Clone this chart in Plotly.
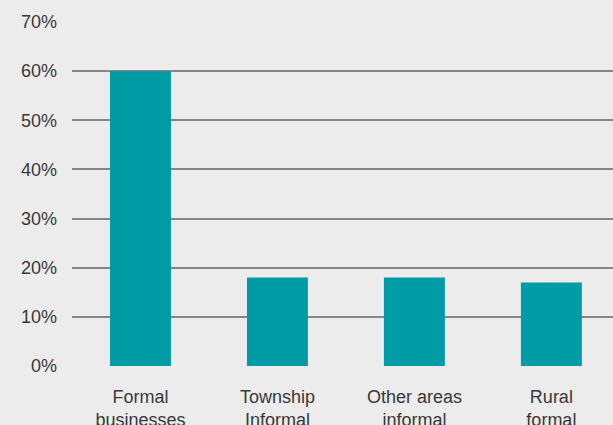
import plotly.graph_objects as go

categories = ["Formal<br>businesses", "Township<br>Informal", "Other areas<br>informal", "Rural<br>formal"]
shares = [60, 18, 18, 17]
y_ticks = [0, 10, 20, 30, 40, 50, 60, 70]
y_tick_labels = [f"{v}%" for v in y_ticks]

bg = "#ececec"
bar_color = "#009ca6"
text_color = "#383838"

fig = go.Figure(
    go.Bar(
        x=list(range(len(categories))),
        y=shares,
        marker=dict(color=bar_color, line=dict(width=0)),
        width=0.445,
        hoverinfo="skip",
    )
)

fig.update_layout(
    width=613,
    height=425,
    margin=dict(l=72, r=0, t=22, b=59),
    paper_bgcolor=bg,
    plot_bgcolor=bg,
    showlegend=False,
    font=dict(family="Liberation Sans, Arial, sans-serif", size=18, color=text_color),
    xaxis=dict(
        range=[-0.5, 3.45],
        tickmode="array",
        tickvals=list(range(len(categories))),
        ticktext=categories,
        showgrid=False,
        zeroline=False,
        showline=False,
        ticks="",
        automargin=False,
        ticklabelstandoff=18,
        tickfont=dict(size=18, color=text_color),
    ),
    yaxis=dict(
        range=[0, 70],
        tickmode="array",
        tickvals=y_ticks,
        ticktext=y_tick_labels,
        showgrid=True,
        gridcolor="#858585",
        gridwidth=1.5,
        zeroline=False,
        showline=False,
        ticks="",
        automargin=False,
        ticklabelstandoff=14,
        tickfont=dict(size=18, color=text_color),
    ),
)

fig.write_html("out.html")
